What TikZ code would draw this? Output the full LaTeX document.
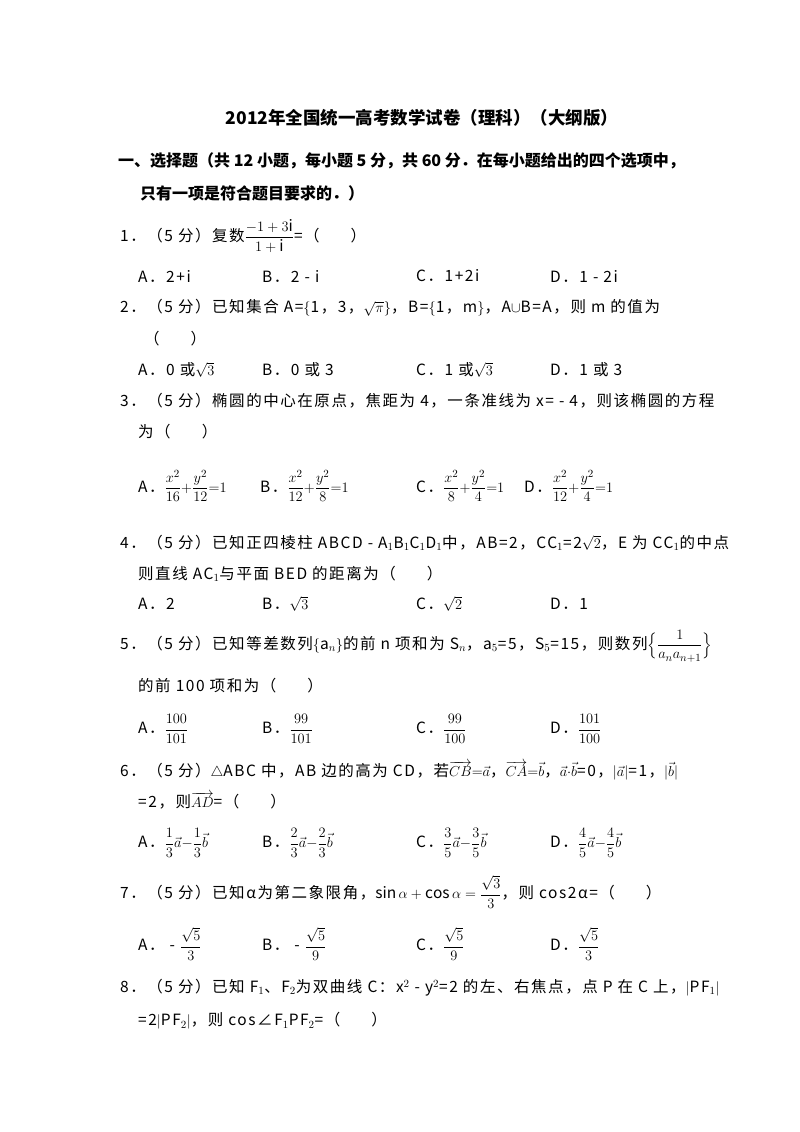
\documentclass[tikz,border=0pt]{standalone}
\usepackage{fontspec}
\usepackage{amsmath}
\setmainfont{Noto Sans CJK SC}
\newfontfamily\bodyf[LetterSpace=10]{Noto Sans CJK SC}
\begin{document}
\begin{tikzpicture}[x=1pt,y=-1pt,
  t/.style={anchor=west,inner sep=0pt,font=\bodyf\fontsize{15.5}{18}\selectfont},
  h/.style={anchor=west,inner sep=0pt,font=\fontsize{16}{19}\selectfont\bfseries}]
\useasboundingbox[fill=white] (0,0) rectangle (800,1132);
\node[h,anchor=center,font=\fontsize{17.5}{20}\selectfont\bfseries] (title) at (422,118) {2012年全国统一高考数学试卷（理科）（大纲版）};
\node[h] (s1) at (118,161) {一、选择题（共 12 小题，每小题 5 分，共 60 分．在每小题给出的四个选项中，};
\node[h] (s2) at (140,193) {只有一项是符合题目要求的．）};
% Q1
\node[t] (q1) at (120,236) {1．（5 分）复数$\dfrac{-1+3\mathrm{i}}{1+\mathrm{i}}$=（\quad\quad）};
\node[t] (q1a) at (138,276) {A．2+i};
\node[t] (q1b) at (262,276) {B．2 - i};
\node[t] (q1c) at (416,276) {C．1+2i};
\node[t] (q1d) at (550,276) {D．1 - 2i};
% Q2
\node[t] (q2) at (120,308) {2．（5 分）已知集合 A=$\{$1，3，$\sqrt{\pi}$$\}$，B=$\{$1，m$\}$，A$\cup$B=A，则 m 的值为};
\node[t] (q2p) at (144,339) {（\quad\quad）};
\node[t] (q2a) at (138,370) {A．0 或$\sqrt{3}$};
\node[t] (q2b) at (262,370) {B．0 或 3};
\node[t] (q2c) at (416,370) {C．1 或$\sqrt{3}$};
\node[t] (q2d) at (550,370) {D．1 或 3};
% Q3
\node[t] (q3) at (120,401) {3．（5 分）椭圆的中心在原点，焦距为 4，一条准线为 x= - 4，则该椭圆的方程};
\node[t] (q3p) at (138,432) {为（\quad\quad）};
\node[t] (q3a) at (138,486) {A．$\dfrac{x^2}{16}{+}\dfrac{y^2}{12}{=}1$};
\node[t] (q3b) at (260,486) {B．$\dfrac{x^2}{12}{+}\dfrac{y^2}{8}{=}1$};
\node[t] (q3c) at (416,486) {C．$\dfrac{x^2}{8}{+}\dfrac{y^2}{4}{=}1$};
\node[t] (q3d) at (524,486) {D．$\dfrac{x^2}{12}{+}\dfrac{y^2}{4}{=}1$};
% Q4
\node[t] (q4) at (120,543) {4．（5 分）已知正四棱柱 ABCD - A$_1$B$_1$C$_1$D$_1$中，AB=2，CC$_1$=2$\sqrt{2}$，E 为 CC$_1$的中点};
\node[t] (q4l) at (138,574) {则直线 AC$_1$与平面 BED 的距离为（\quad\quad）};
\node[t] (q4a) at (138,604) {A．2};
\node[t] (q4b) at (262,604) {B．$\sqrt{3}$};
\node[t] (q4c) at (416,604) {C．$\sqrt{2}$};
\node[t] (q4d) at (550,604) {D．1};
% Q5
\node[t] (q5) at (120,646) {5．（5 分）已知等差数列$\{$a$_n$$\}$的前 n 项和为 S$_n$，a$_5$=5，S$_5$=15，则数列$\Big\{\dfrac{1}{a_na_{n+1}}\Big\}$};
\node[t] (q5l) at (138,686) {的前 100 项和为（\quad\quad）};
\node[t] (q5a) at (138,729) {A．$\dfrac{100}{101}$};
\node[t] (q5b) at (262,729) {B．$\dfrac{99}{101}$};
\node[t] (q5c) at (416,729) {C．$\dfrac{99}{100}$};
\node[t] (q5d) at (550,729) {D．$\dfrac{101}{100}$};
% Q6
\node[t] (q6) at (120,771) {6．（5 分）$\triangle$ABC 中，AB 边的高为 CD，若$\overrightarrow{CB}{=}\vec a$，$\overrightarrow{CA}{=}\vec b$，$\vec a{\cdot}\vec b$=0，$|\vec a|$=1，$|\vec b|$};
\node[t] (q6l) at (138,801) {=2，则$\overrightarrow{AD}$=（\quad\quad）};
\node[t] (q6a) at (138,843) {A．$\dfrac13\vec a{-}\dfrac13\vec b$};
\node[t] (q6b) at (262,843) {B．$\dfrac23\vec a{-}\dfrac23\vec b$};
\node[t] (q6c) at (416,843) {C．$\dfrac35\vec a{-}\dfrac35\vec b$};
\node[t] (q6d) at (550,843) {D．$\dfrac45\vec a{-}\dfrac45\vec b$};
% Q7
\node[t] (q7) at (120,892) {7．（5 分）已知α为第二象限角，$\sin\alpha+\cos\alpha=\dfrac{\sqrt3}{3}$，则 cos2α=（\quad\quad）};
\node[t] (q7a) at (138,944) {A． - $\dfrac{\sqrt5}{3}$};
\node[t] (q7b) at (262,944) {B． - $\dfrac{\sqrt5}{9}$};
\node[t] (q7c) at (416,944) {C．$\dfrac{\sqrt5}{9}$};
\node[t] (q7d) at (550,944) {D．$\dfrac{\sqrt5}{3}$};
% Q8
\node[t] (q8) at (120,988) {8．（5 分）已知 F$_1$、F$_2$为双曲线 C：x$^2$ - y$^2$=2 的左、右焦点，点 P 在 C 上，$|$PF$_1$$|$};
\node[t] (q8l) at (138,1021) {=2$|$PF$_2$$|$，则 cos∠F$_1$PF$_2$=（\quad\quad）};
\end{tikzpicture}
\end{document}
